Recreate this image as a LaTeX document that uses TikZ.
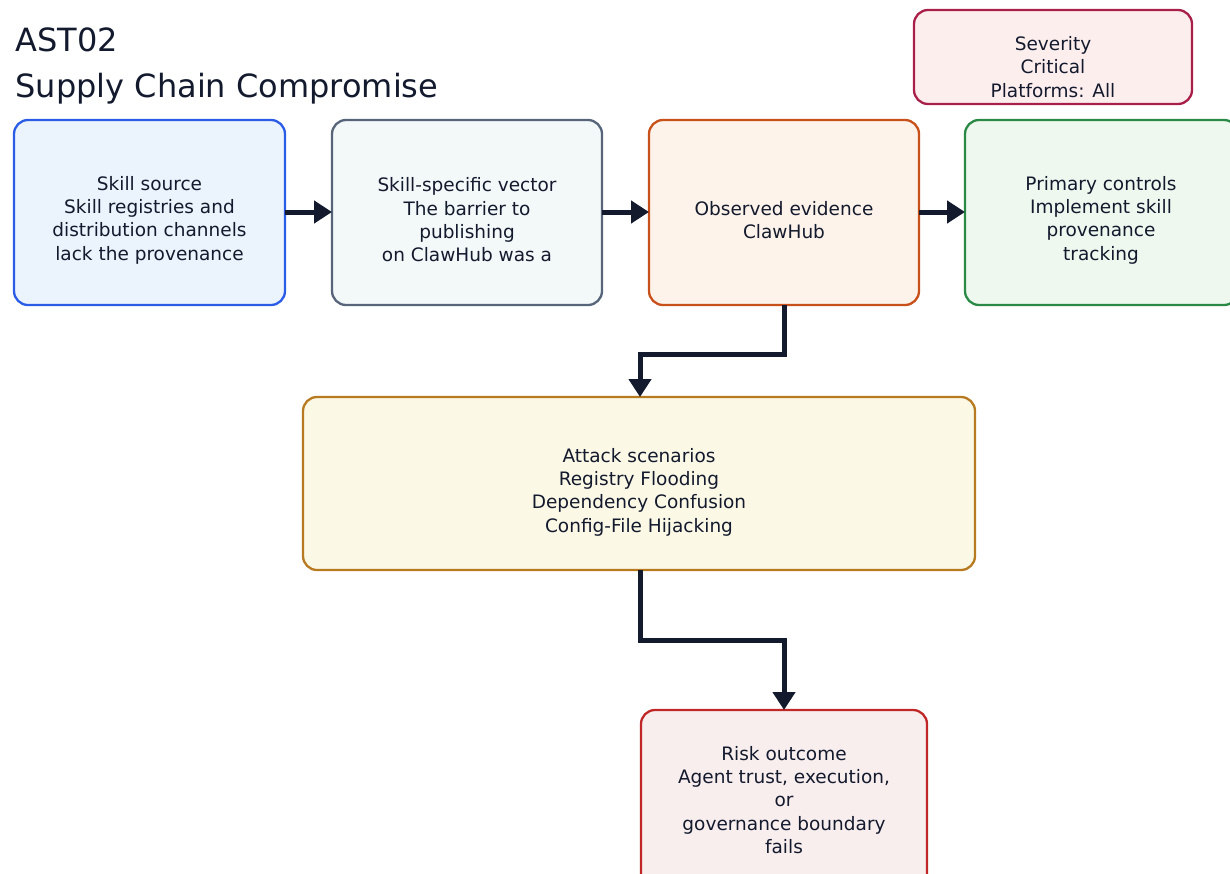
\documentclass[tikz,border=0pt]{standalone}
\usepackage{fontspec}
\setmainfont{DejaVu Sans}
\usetikzlibrary{arrows.meta}

\definecolor{ink}{HTML}{131A2E}
\definecolor{bluebd}{HTML}{2B5CE6}\definecolor{bluebg}{HTML}{EBF3FD}
\definecolor{graybd}{HTML}{56657A}\definecolor{graybg}{HTML}{F3F8F9}
\definecolor{orgbd}{HTML}{C8501A}\definecolor{orgbg}{HTML}{FEF3EA}
\definecolor{grnbd}{HTML}{2A8A45}\definecolor{grnbg}{HTML}{EEF8EE}
\definecolor{sevbd}{HTML}{A8204A}\definecolor{sevbg}{HTML}{FDEEEE}
\definecolor{ylwbd}{HTML}{B87A20}\definecolor{ylwbg}{HTML}{FBF9E6}
\definecolor{redbd}{HTML}{C02828}\definecolor{redbg}{HTML}{F9EEEE}

\tikzset{
  card/.style={draw, line width=2.3pt, rounded corners=14pt, inner sep=0pt},
  label/.style={align=center, font=\fontsize{18.5}{23.3}\selectfont, text=ink},
  flow/.style={draw=ink, line width=5pt,
    -{Triangle[length=18pt,width=22pt]}},
  heading/.style={anchor=base west, font=\fontsize{32}{36}\selectfont, text=ink}
}

\begin{document}
\begin{tikzpicture}[x=1pt,y=-1pt]
\useasboundingbox (0,0) rectangle (1230,873);

% title
\node[heading] (t1) at (12,51) {AST02};
\node[heading] (t2) at (12,97) {Supply Chain Compromise};

% boxes
\path[card, draw=bluebd, fill=bluebg] (14,120) rectangle (285,305);
\node[label] (src) at (149.5,220) {Skill source\\Skill registries and\\distribution channels\\lack the provenance};
\coordinate (srcE) at (285,212);

\path[card, draw=graybd, fill=graybg] (332,120) rectangle (602,305);
\node[label] (vec) at (467,220) {Skill-specific vector\\The barrier to\\publishing\\on ClawHub was a};
\coordinate (vecW) at (332,212);
\coordinate (vecE) at (602,212);

\path[card, draw=orgbd, fill=orgbg] (649,120) rectangle (919,305);
\node[label] (obs) at (784,220) {Observed evidence\\ClawHub};
\coordinate (obsW) at (649,212);
\coordinate (obsE) at (919,212);
\coordinate (obsS) at (784,305);

\path[card, draw=grnbd, fill=grnbg] (965,120) rectangle (1238,305);
\node[label] (ctl) at (1101,220) {Primary controls\\Implement skill\\provenance\\tracking};
\coordinate (ctlW) at (965,212);

\path[card, draw=sevbd, fill=sevbg] (914,10) rectangle (1192,104);
\node[label] (sev) at (1053,67) {Severity\\Critical\\Platforms: All};

\path[card, draw=ylwbd, fill=ylwbg] (303,397) rectangle (975,570);
\node[label] (atk) at (639,492) {Attack scenarios\\Registry Flooding\\Dependency Confusion\\Config-File Hijacking};
\coordinate (atkN) at (640,397);
\coordinate (atkS) at (640,570);

\path[card, draw=redbd, fill=redbg] (641,710) rectangle (927,895);
\node[label] (risk) at (784,800) {Risk outcome\\Agent trust, execution,\\or\\governance boundary\\fails};
\coordinate (riskN) at (784,710);

% connectors
\draw[flow] (srcE) -- (vecW);
\draw[flow] (vecE) -- (obsW);
\draw[flow] (obsE) -- (ctlW);
\draw[flow] (obsS) -- (784,354) -- (640,354) -- (atkN);
\draw[flow] (atkS) -- (640,640) -- (784,640) -- (riskN);
\end{tikzpicture}
\end{document}
